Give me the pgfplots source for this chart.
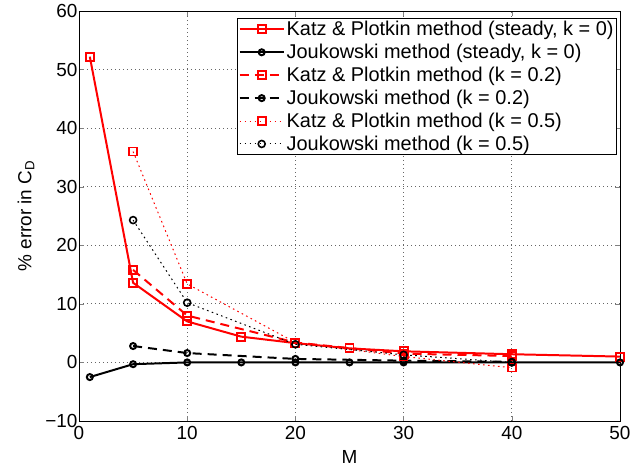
\documentclass[border=0pt]{standalone}
\usepackage{pgfplots}
\pgfplotsset{compat=1.18}
\usepackage{fontspec}
\setmainfont{Liberation Sans}

\begin{document}
\begin{tikzpicture}
\useasboundingbox (-79bp,-47bp) rectangle (552bp,421bp);
\begin{axis}[
  at={(0,0)}, anchor=south west,
  scale only axis,
  width=541bp, height=410bp,
  xmin=0, xmax=50, ymin=-10, ymax=60,
  xtick={0,10,20,30,40,50},
  ytick={-10,0,10,20,30,40,50,60},
  yticklabels={−10,0,10,20,30,40,50,60},
  tick align=inside,
  major tick length=5bp,
  grid=major,
  major grid style={black!60, dash pattern=on 0.8bp off 3.2bp, line width=0.8pt},
  axis line style={black, line width=0.9pt},
  xlabel={M},
  ylabel={\% error in C\textsubscript{D}},
  every tick label/.append style={font=\fontsize{19}{21}\selectfont},
  label style={font=\fontsize{19}{21}\selectfont},
  xlabel style={at={(axis description cs:0.5,0)}, anchor=center, yshift=-36bp},
  ylabel style={at={(axis description cs:0,0.5)}, anchor=center, yshift=53bp},
  yticklabel style={xshift=2bp},
  xticklabel style={yshift=-2bp},
  /pgf/number format/assume math mode=true,
  legend cell align=left,
  legend image code/.code={\draw[mark repeat=2,mark phase=2,#1] plot coordinates {(0bp,0bp) (22bp,0bp) (44bp,0bp)};},
  legend style={at={(0.9945,0.983)}, anchor=north east,
    font=\fontsize{20}{24}\selectfont, draw=black, line width=0.9pt,
    inner sep=1pt, row sep=3bp},
]

% Katz & Plotkin, steady
\addplot[red, line width=2pt, mark=square, mark size=4bp, mark options={solid, line width=2pt}] coordinates {
(1,52.2) (5,13.6) (10,7.0) (15,4.4) (20,3.3) (25,2.4) (30,1.9) (40,1.4) (50,1.0)
};
% Joukowski, steady
\addplot[black, line width=2pt, mark=o, mark size=3bp, mark options={solid, line width=2pt}] coordinates {
(1,-2.5) (5,-0.3) (10,0) (15,0) (20,0) (25,0) (30,0) (40,0) (50,0)
};
% Katz & Plotkin, k = 0.2
\addplot[red, line width=2pt, dash pattern=on 9bp off 6bp, mark=square, mark size=4bp, mark options={solid, line width=2pt}] coordinates {
(5,15.8) (10,8.0) (20,3.4) (30,1.5) (40,1.1)
};
% Joukowski, k = 0.2
\addplot[black, line width=2pt, dash pattern=on 9bp off 6bp, mark=o, mark size=3bp, mark options={solid, line width=2pt}] coordinates {
(5,2.8) (10,1.6) (20,0.6) (30,0.3) (40,0.1)
};
% Katz & Plotkin, k = 0.5
\addplot[red, line width=1pt, dash pattern=on 1.6bp off 3.4bp, mark=square, mark size=4bp, mark options={solid, line width=1.6pt}] coordinates {
(5,36.0) (10,13.4) (20,3.4) (30,1.0) (40,-0.9)
};
% Joukowski, k = 0.5
\addplot[black, line width=1pt, dash pattern=on 1.6bp off 3.4bp, mark=o, mark size=3.5bp, mark options={solid, line width=1.6pt}] coordinates {
(5,24.3) (10,10.2) (20,3.1) (30,1.3) (40,0.0)
};

\legend{{Katz \& Plotkin method (steady, k = 0)},
{Joukowski method (steady, k = 0)},
{Katz \& Plotkin method (k = 0.2)},
{Joukowski method (k = 0.2)},
{Katz \& Plotkin method (k = 0.5)},
{Joukowski method (k = 0.5)}}
\end{axis}
\end{tikzpicture}
\end{document}
